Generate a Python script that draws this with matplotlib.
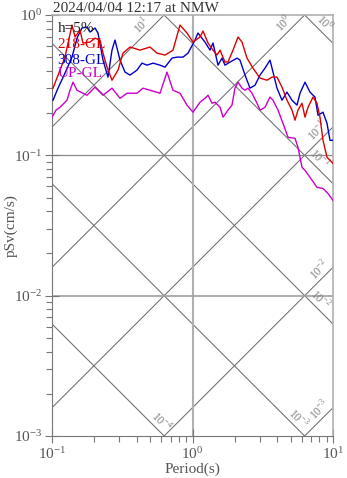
import numpy as np
import matplotlib
matplotlib.use('Agg')
import matplotlib.pyplot as plt
from matplotlib.ticker import LogLocator, NullFormatter

plt.rcParams['font.family'] = ['Liberation Serif', 'DejaVu Serif']
plt.rcParams['mathtext.fontset'] = 'custom'
plt.rcParams['mathtext.rm'] = 'Liberation Serif'

title = '2024/04/04 12:17 at NMW'
damping = 'h=5%'
names = ['218-GL', '308-GL', 'UP-GL']
colors = ['#dd0000', '#0000cc', '#cc00cc']

# 218-GL
per_a = [0.1017, 0.1237, 0.1388, 0.1458, 0.1582, 0.1662, 0.1864, 0.2023, 0.2196, 0.2307,
         0.2464, 0.2673, 0.2950, 0.3202, 0.3592, 0.4230, 0.4983, 0.5589, 0.6372, 0.7263,
         0.8147, 0.9139, 1.008, 1.131, 1.188, 1.290, 1.399, 1.494, 1.570, 1.703,
         1.789, 1.943, 2.108, 2.251, 2.443, 2.695, 3.024, 3.391, 3.680, 3.994,
         4.335, 4.705, 5.107, 5.364, 5.634, 6.017, 6.321, 6.639, 7.206, 7.691,
         8.079, 8.487, 9.064, 10.0]
psv_a = [0.301, 0.501, 0.848, 0.697, 0.781, 0.631, 0.641, 0.685, 0.663, 0.535,
         0.425, 0.343, 0.405, 0.535, 0.591, 0.562, 0.591, 0.535, 0.518, 0.562,
         0.848, 0.744, 0.641, 0.697, 0.768, 0.631, 0.562, 0.518, 0.562, 0.462,
         0.462, 0.562, 0.697, 0.641, 0.493, 0.418, 0.355, 0.343, 0.361, 0.361,
         0.306, 0.247, 0.210, 0.178, 0.210, 0.235, 0.187, 0.220, 0.260, 0.235,
         0.187, 0.128, 0.0968, 0.0877]

# 308-GL
per_b = [0.1017, 0.1103, 0.1237, 0.1388, 0.1507, 0.1635, 0.1775, 0.1864, 0.2023, 0.2125,
         0.2307, 0.2504, 0.2673, 0.2808, 0.3048, 0.3308, 0.3592, 0.4027, 0.4371, 0.4745,
         0.5235, 0.5873, 0.6372, 0.7145, 0.7757, 0.8559, 0.9290, 1.042, 1.094, 1.227,
         1.332, 1.399, 1.519, 1.622, 1.703, 1.849, 2.074, 2.178, 2.365, 2.567,
         2.785, 3.024, 3.281, 3.561, 3.741, 3.994, 4.335, 4.705, 5.107, 5.543,
         5.823, 6.321, 6.861, 7.446, 7.821, 8.487, 9.064, 9.521, 10.0]
psv_b = [0.247, 0.301, 0.385, 0.501, 0.685, 0.808, 0.821, 0.756, 0.808, 0.744,
         0.477, 0.361, 0.562, 0.663, 0.477, 0.392, 0.373, 0.405, 0.454, 0.439,
         0.454, 0.439, 0.425, 0.493, 0.501, 0.501, 0.535, 0.663, 0.744, 0.641,
         0.562, 0.631, 0.439, 0.493, 0.439, 0.462, 0.493, 0.477, 0.373, 0.301,
         0.316, 0.373, 0.418, 0.477, 0.392, 0.301, 0.247, 0.282, 0.247, 0.228,
         0.277, 0.332, 0.282, 0.260, 0.193, 0.203, 0.169, 0.128, 0.128]

# UP-GL
per_c = [0.1, 0.1068, 0.1140, 0.1279, 0.1343, 0.1411, 0.1507, 0.1775, 0.2023, 0.2307,
         0.2673, 0.3048, 0.3419, 0.4027, 0.4443, 0.4983, 0.5873, 0.6582, 0.7263, 0.8147,
         0.9139, 1.008, 1.131, 1.227, 1.290, 1.377, 1.446, 1.570, 1.649, 1.789,
         1.910, 2.007, 2.108, 2.251, 2.365, 2.483, 2.651, 2.878, 3.024, 3.281,
         3.561, 3.741, 4.060, 4.406, 4.783, 5.364, 5.634, 6.017, 6.321, 6.861,
         7.691, 8.487, 9.213, 10.0]
psv_c = [0.187, 0.210, 0.220, 0.247, 0.291, 0.332, 0.291, 0.268, 0.306, 0.268,
         0.301, 0.255, 0.277, 0.277, 0.301, 0.291, 0.277, 0.392, 0.291, 0.277,
         0.228, 0.203, 0.239, 0.255, 0.268, 0.235, 0.239, 0.220, 0.187, 0.210,
         0.228, 0.301, 0.332, 0.301, 0.291, 0.301, 0.277, 0.235, 0.210, 0.220,
         0.260, 0.247, 0.210, 0.169, 0.1345, 0.1322, 0.1141, 0.0821, 0.0781, 0.0697,
         0.0591, 0.0581, 0.0535, 0.0477]

# tripartite guide lines: displacement (cm) and acceleration (cm/s^2)
disp_levels = [1e0, 1e-1, 1e-2, 1e-3, 1e-4]
acc_levels = [1e1, 1e0, 1e-1, 1e-2, 1e-3]
disp_label_at = [7.86, 7.25, 7.37, 5.17, 0.545]
acc_label_at = [0.478, 4.93, 8.54, 8.76, 8.83]

fig = plt.figure(figsize=(3.47, 4.78), dpi=100)
ax = fig.add_axes([52/347, 42/478, 281/347, 421/478])
ax.set_xscale('log')
ax.set_yscale('log')
ax.set_xlim(0.1, 10)
ax.set_ylim(1e-3, 1)

gcol = '#6e6e6e'
tt = np.array([0.01, 100.0])
for d in disp_levels:
    ax.plot(tt, 2*np.pi*d/tt, color=gcol, lw=0.75, zorder=1)
for a in acc_levels:
    ax.plot(tt, a*tt/(2*np.pi), color=gcol, lw=0.75, zorder=1)

ax.axvline(1, color='#b0b0b0', lw=1.5, zorder=1)
ax.axhline(0.1, color='#8a8a8a', lw=0.9, zorder=1)
ax.axhline(0.01, color='#a0a0a0', lw=1.2, zorder=1)

off = 4.0
for d, t in zip(disp_levels, disp_label_at):
    ax.annotate('$10^{%d}$' % round(np.log10(d)), xy=(t, 2*np.pi*d/t),
                xytext=(off, off), textcoords='offset points', ha='center', va='center',
                rotation=-45, rotation_mode='anchor', fontsize=8.5, color='#808080')
for a, t in zip(acc_levels, acc_label_at):
    ax.annotate('$10^{%d}$' % round(np.log10(a)), xy=(t, a*t/(2*np.pi)),
                xytext=(-off, off), textcoords='offset points', ha='center', va='center',
                rotation=45, rotation_mode='anchor', fontsize=8.5, color='#808080')

ax.plot(per_b, psv_b, color=colors[1], lw=1.0, zorder=3)
ax.plot(per_a, psv_a, color=colors[0], lw=1.0, zorder=4)
ax.plot(per_c, psv_c, color=colors[2], lw=1.0, zorder=3)

ys = [0.969, 0.931, 0.892, 0.860]
for txt, c, y in zip([damping] + names, ['#222222'] + colors, ys):
    ax.text(0.02, y, txt, transform=ax.transAxes, fontsize=11, color=c,
            ha='left', va='center', zorder=5)

for s in ['left', 'bottom']:
    ax.spines[s].set_color('#777777')
for s in ['top', 'right']:
    ax.spines[s].set_color('#b0b0b0')
    ax.spines[s].set_linewidth(1.2)

ax.xaxis.set_major_locator(LogLocator(base=10, numticks=10))
ax.xaxis.set_minor_locator(LogLocator(base=10, subs=np.arange(2, 10), numticks=10))
ax.yaxis.set_major_locator(LogLocator(base=10, numticks=10))
ax.yaxis.set_minor_locator(LogLocator(base=10, subs=np.arange(2, 10), numticks=10))
ax.xaxis.set_minor_formatter(NullFormatter())
ax.yaxis.set_minor_formatter(NullFormatter())
ax.tick_params(which='major', direction='inout', length=10, width=0.8, color='#777777',
               labelsize=11, labelcolor='#555555', pad=2)
ax.tick_params(which='minor', direction='out', length=4, width=0.8, color='#777777')

ax.set_xlabel('Period(s)', fontsize=11, color='#555555', labelpad=1)
ax.set_ylabel('pSv(cm/s)', fontsize=11, color='#555555')
ax.yaxis.set_label_coords(-0.122, 0.5)
fig.text(53/347, 1 - 2/478, title, ha='left', va='top', fontsize=11, color='#333333')

fig.savefig('out.png', dpi=100)
